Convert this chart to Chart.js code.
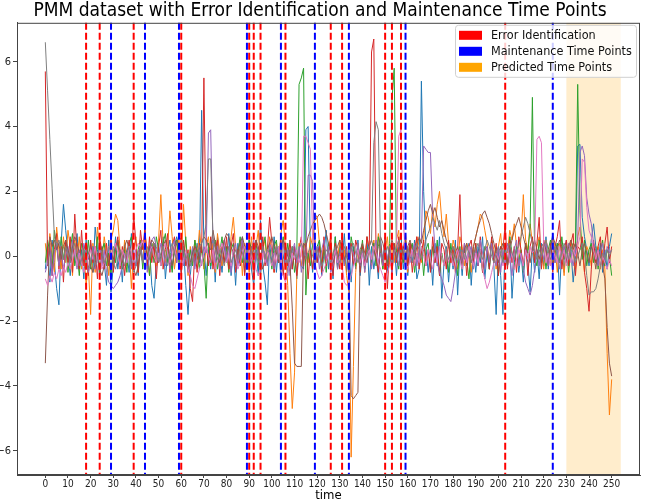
<!DOCTYPE html>
<html>
<head>
<meta charset="utf-8">
<script src="https://cdn.jsdelivr.net/npm/chart.js@4.4.0/dist/chart.umd.min.js"></script>
<style>
html, body { margin: 0; padding: 0; background: #fff; }
</style>
</head>
<body>
<canvas id="myChart" width="646" height="500"></canvas>
<script>
// series values, one per time step (0..250)
var blueVals = [
	-0.4, 0.3, -0.8, 0.5, -0.2, -1.0, -1.5, 0.4, 1.6, 0.8,
	0.1, -0.6, 0.3, -0.2, 0.7, -0.4, 0.2, -0.7, 0.5, -0.1,
	0.4, -0.5, 0.9, 0.2, -0.6, 0.3, -0.2, -0.9, 0.5, -1.1,
	-0.3, 0.6, -0.4, 0.2, -0.8, 0.4, 0.1, -0.5, 0.7, -0.3,
	0.2, -0.6, 0.5, -0.2, 0.8, -0.4, 0.3, -0.9, -1.3, -0.2,
	0.4, -0.3, 0.6, -0.7, 0.1, 0.5, -0.4, 0.3, 0.6, 0.2,
	-0.5, 0.3, -0.9, -1.8, -0.6, 0.2, -0.3, 0.4, -0.2, 4.5,
	0.3, -0.6, 0.2, -0.4, 0.5, -0.8, 0.6, 0.1, -0.5, 0.3,
	-0.2, 0.7, -0.6, 0.2, -0.9, 0.4, -0.3, 0.6, -0.5, 0.1,
	0.5, -0.4, -0.9, 0.2, -0.6, 1.1, -0.3, -0.8, -1.5, 0.4,
	-0.2, 0.6, -0.5, 0.3, -0.7, -0.1, 0.4, -0.6, 0.2, -0.4,
	0.3, -0.7, 0.1, -0.3, -0.4, 3.9, 4.0, 0.2, -0.5, 0.3,
	-0.2, 0.5, -0.6, 0.1, 0.8, -0.4, 0.3, -0.7, 0.6, -0.3,
	0.4, -0.2, 0.7, -0.5, 0.2, -0.8, 0.3, -0.4, 0.5, -0.6,
	0.2, -0.3, 0.6, -0.9, 0.3, -0.4, 0.1, -0.7, 0.5, -0.2,
	0.6, -0.5, 0.2, -0.3, 0.4, -0.6, 0.3, 0.7, -0.4, 0.1,
	-0.6, 0.4, -0.2, 0.5, -0.7, -0.4, 5.4, 2.0, 0.3, -0.5,
	0.2, -0.9, 0.4, -0.3, 0.6, -1.3, -0.2, 0.3, -0.8, 0.1,
	-0.4, 0.5, -1.2, 0.2, -0.6, 0.3, -0.3, 0.4, -0.9, 0.2,
	-0.5, 0.3, -0.2, 0.6, -0.7, 0.1, -0.4, 0.5, -0.3, -1.8,
	0.2, -0.6, -1.8, 0.4, -0.3, 0.6, -1.3, -0.2, 0.3, -0.5,
	0.1, -0.8, 0.4, -0.2, -1.1, 0.3, -0.5, 0.2, -0.7, 0.4,
	-0.3, 0.6, -0.4, 0.2, 0.7, -0.2, 0.4, -1.2, 0.3, -0.5,
	0.5, -0.3, 0.2, -0.8, -0.1, 3.4, 3.45, 1.2, 0.6, 0.2,
	-0.3, 0.5, 1.0, 0.3, -0.2, 0.4, -0.5, 0.2, -0.4, 0.3,
	0.7
];
var orangeVals = [
	0.4, -0.3, 0.7, 0.1, -0.5, 0.9, 0.2, -0.4, 0.6, -0.2,
	0.8, 0.3, -0.6, 0.5, -0.1, 0.6, -0.4, 0.2, -0.9, -0.3,
	-1.8, 0.4, -0.5, 0.9, 0.3, -0.2, 0.6, 0.1, -0.6, 0.5,
	0.8, 1.3, 1.1, 0.2, -0.4, 0.5, -0.3, 0.4, -1.0, 0.2,
	0.6, -0.5, 0.3, -0.2, 0.7, 0.1, -0.6, 0.4, 0.2, -0.3,
	0.5, 1.9, 0.4, -0.2, 0.3, 1.4, 0.6, -0.4, 0.2, 0.5,
	-0.3, 1.6, 0.4, -0.6, 0.3, -0.2, 0.5, -0.1, 0.8, 0.2,
	-0.4, 0.3, 0.6, -0.2, 0.4, -0.5, 0.7, 0.1, -0.3, 0.5,
	0.2, -0.4, 0.6, 1.2, 0.3, -0.2, 0.5, -0.6, 0.4, 0.1,
	-0.5, 0.6, -0.2, 0.3, 0.8, -0.4, 0.2, 0.5, -0.3, 0.6,
	0.1, -0.5, 0.4, -0.2, 0.7, 1.1, 0.3, -0.9, -3.0, -4.7,
	-3.6, -0.6, 0.4, -0.3, 0.2, 0.5, -0.2, 0.6, 0.3, 1.3,
	1.2, 0.4, -0.3, 0.5, -0.2, 0.3, 0.6, -0.4, 0.2, -0.1,
	0.5, -0.3, 0.2, -0.6, -1.1, -6.2, -3.4, -0.5, 0.3, -0.2,
	0.4, -0.5, 0.6, 0.2, -0.3, 0.5, -0.1, 0.7, 0.3, -0.4,
	0.2, 0.6, -0.3, 0.4, -0.2, 0.5, 0.8, -0.4, 0.3, 0.1,
	-0.5, 0.4, 0.2, -0.3, 0.6, 0.3, -0.2, 0.5, 1.4, 1.2,
	0.7, 1.5, 0.9, 1.6, 2.0, 1.1, 0.6, 1.3, 0.4, -0.2,
	0.5, 0.2, -0.4, 0.6, 0.3, -0.3, 0.4, 0.1, -0.5, 0.3,
	0.6, 0.9, 1.3, 1.2, 0.8, 0.4, -0.2, 0.5, 0.2, -0.4,
	0.3, 0.7, -0.2, 0.4, 0.1, 0.8, 0.5, 1.0, 0.3, -0.3,
	0.6, 1.9, 0.5, 0.2, 1.0, 0.4, -0.2, 0.3, 0.6, 0.1,
	-0.4, 0.5, 0.2, -0.3, 0.6, 0.3, -0.5, 0.4, 0.2, -0.6,
	0.3, -0.2, 0.5, 0.1, -0.4, 0.6, 0.9, 0.2, -0.5, 0.3,
	0.1, -0.3, 0.4, -0.2, 0.3, -0.4, 0.2, -0.4, -3.0, -4.9,
	-3.8
];
var greenVals = [
	-0.2, 0.5, 0.1, -0.4, 0.8, 0.3, -0.3, 0.6, -0.1, 0.4,
	-0.5, 0.2, 0.7, -0.3, 0.1, -0.6, 0.4, 0.2, -0.2, 0.5,
	-0.4, 0.3, -0.1, 0.6, -0.5, 0.2, 0.4, -0.3, 0.1, -0.6,
	0.3, -0.2, 0.5, 0.1, -0.4, 0.2, -0.5, 0.4, 0.6, -0.1,
	-0.3, 0.2, 0.5, -0.4, 0.3, 0.1, -0.6, 0.4, -0.2, 0.6,
	0.2, -0.3, 0.4, 0.7, -0.2, 0.1, -0.5, 0.3, 0.5, -0.2,
	0.4, -0.1, 0.6, -0.4, 0.2, -0.3, 0.5, 0.1, -0.4, 0.3,
	-0.2, -1.3, 0.4, -0.3, 0.2, 0.5, -0.4, 0.1, 0.6, -0.2,
	0.3, -0.5, 0.2, 0.4, -0.3, 0.1, 0.6, -0.2, 0.3, -0.4,
	0.5, 0.2, -0.3, 0.4, -0.1, -0.6, 0.3, 0.6, -0.2, 0.2,
	-0.4, 0.3, 0.5, -0.2, 0.1, 0.6, -0.3, 0.4, -0.1, 0.3,
	-0.5, 0.0, 5.3, 5.5, 5.8, -1.2, 0.1, -0.3, 0.4, -0.2,
	0.3, 0.5, -0.3, 0.2, -0.5, 0.4, 0.1, -0.2, 0.6, -0.4,
	0.2, 0.4, -0.3, 0.1, -0.5, 0.6, 0.2, -0.3, 0.4, -0.1,
	0.5, -0.4, 0.2, 0.3, -0.2, 0.4, -0.3, 0.6, 0.1, -0.4,
	0.3, -0.2, 0.4, 4.8, 5.8, 0.1, -0.4, 0.3, -0.2, 0.5,
	-0.3, 0.2, 0.4, -0.5, 0.1, -0.2, 0.3, -0.6, 0.2, 0.4,
	-0.4, 0.3, -0.2, 0.5, -0.6, 0.1, -0.3, 0.2, -0.5, 0.4,
	-0.2, 0.1, -0.6, 0.3, -0.4, 0.2, -0.1, -0.7, 0.3, -0.2,
	0.4, -0.3, 0.2, -0.5, 0.3, 0.1, -0.4, 0.5, -0.2, 0.2,
	-0.6, 0.3, -0.2, 0.4, -0.3, 0.6, 0.1, -0.4, 0.3, -0.2,
	0.2, -0.5, 0.4, 0.1, 0.9, 4.9, 0.0, -0.3, 0.5, -0.2,
	0.3, -0.4, 0.2, 0.5, -0.3, 0.1, 0.4, -0.2, 0.6, -0.1,
	0.3, -0.5, 0.2, 0.4, 0.3, 5.3, 1.4, -0.1, 0.5, -0.3,
	0.2, 0.4, -0.2, 0.3, -0.4, 0.1, 0.5, -0.3, 0.2, 0.0,
	-0.6
];
var redVals = [
	5.7, -0.3, 0.4, -0.6, 0.2, 0.7, -0.4, 0.3, -0.8, 0.5,
	-0.2, 0.6, -0.5, 1.3, 0.1, -0.4, 0.8, -0.3, 0.2, -0.6,
	0.5, -0.2, 0.3, -0.7, 0.6, 0.1, -0.4, 0.4, -0.3, 0.7,
	-0.5, 0.2, 0.6, -0.4, 0.3, -0.6, 0.1, 0.5, -0.3, 1.3,
	0.4, -0.5, 0.8, 0.2, 0.9, -0.3, 0.6, -0.2, 0.4, -0.7,
	0.3, 0.8, -0.4, 0.2, 0.7, -0.5, 0.3, 0.6, -0.2, 0.4,
	-0.6, 0.5, -0.3, 0.2, -1.0, -1.4, 0.3, -0.5, 0.4, 0.1,
	5.5, 0.4, -0.3, 0.6, -0.4, 0.2, 0.5, -0.6, 0.3, -0.2,
	0.6, -0.4, 0.3, 0.7, -0.5, 0.2, -0.3, 0.5, -0.6, 0.4,
	-0.2, 0.3, -0.7, 0.5, 0.1, -0.4, 0.6, -0.3, 0.2, 1.2,
	0.4, -0.5, 0.3, -0.2, 0.6, -0.6, 0.2, -0.3, 0.5, -0.4,
	0.3, -0.6, 0.2, 0.6, -0.3, 0.4, -0.7, 0.2, -0.4, 0.5,
	-0.2, 0.3, -0.5, 0.6, -0.3, 0.2, 0.5, -0.6, 0.4, 0.1,
	-0.4, 0.6, -0.2, 0.3, -0.6, 0.4, -0.3, 0.5, 0.2, -0.5,
	0.3, -0.2, 0.6, 0.2, 6.3, 6.7, 0.0, -0.5, 0.4, -0.3,
	0.5, -1.0, 0.3, -0.6, 0.4, -0.2, 0.6, -0.4, 0.2, 0.7,
	-0.3, 0.4, -0.5, 0.2, 0.6, -0.4, 0.1, 0.5, -0.3, 0.2,
	-0.5, 0.6, -0.2, 0.3, -0.6, 0.4, 0.2, -0.4, 0.5, -0.2,
	0.3, -0.5, 0.2, 1.9, -0.3, 0.4, -0.6, 0.3, 0.5, -0.2,
	0.4, -0.3, 0.6, -0.5, 0.2, 0.3, -0.4, 0.6, -0.2, 0.4,
	-0.6, 0.3, 0.2, 1.0, -0.4, 0.5, -0.2, 0.3, -0.5, 0.6,
	0.2, -0.3, 0.4, -0.6, 0.3, 0.6, -0.2, 0.4, 1.2, -0.4,
	0.5, 0.2, -0.3, 0.4, -0.5, 0.3, 0.6, 1.1, -0.4, 0.2,
	0.5, -0.3, 0.4, 0.7, -0.6, 0.3, 0.2, 0.6, -0.5, -1.0,
	-1.7, -0.4, 0.5, -0.2, 0.3, 0.6, -0.3, 0.4, 0.9, -0.2,
	0.3
];
var purpleVals = [
	-0.5, -0.2, 0.3, -0.6, 0.1, 0.4, -0.3, 0.2, -0.4, 0.0,
	0.3, -0.2, 0.5, 0.1, -0.4, 0.2, -0.3, 0.4, 0.1, -0.5,
	-0.2, 0.3, -0.4, 0.0, 0.4, -0.3, 0.2, -0.5, -0.8, -0.9,
	-1.0, -0.9, -0.8, -0.6, -0.3, 0.1, -0.2, 0.3, -0.4, 0.2,
	-0.3, 0.1, 0.4, -0.2, 0.3, -0.5, 0.0, 0.5, 0.6, 0.3,
	-0.1, 0.4, 0.2, -0.3, 0.1, -0.4, 0.3, 0.5, -0.2, 0.2,
	0.4, -0.3, 0.1, -0.5, -0.2, 0.3, -0.4, 0.1, 0.2, -0.3,
	0.3, 0.1, 3.8, 3.9, 0.4, -0.2, 0.3, -0.4, 0.1, 0.5,
	-0.2, 0.3, -0.5, 0.2, 0.4, -0.3, 0.1, 0.5, -0.2, 0.3,
	-0.4, 0.2, 0.5, -0.1, 0.3, -0.5, 0.2, 0.1, -0.3, 0.4,
	0.2, -0.4, 0.3, 0.1, -0.2, 0.5, -0.3, 0.2, -0.6, 0.1,
	0.4, -0.2, 0.3, -0.5, 0.1, 0.0, 2.5, 2.5, 2.3, -0.2,
	0.3, -0.4, 0.2, 0.5, -0.1, 0.3, -0.5, -0.3, 0.2, -0.4,
	0.1, 0.4, -0.3, 0.2, -0.6, 0.3, 0.1, -0.2, 0.4, -0.3,
	0.2, -0.5, 0.1, 0.3, -0.4, 0.2, 0.5, -0.2, 0.1, -0.3,
	0.4, -0.1, 0.3, -0.5, 0.2, 0.1, -0.3, 0.4, 0.2, -0.4,
	0.3, -0.2, 0.1, 0.4, -0.3, 0.2, 0.5, 3.4, 3.3, 3.2,
	3.2, 1.2, 0.3, -0.2, -0.5, -0.7, -0.9, -1.2, -1.3, -1.4,
	-1.0, -0.5, -0.1, 0.2, -0.3, 0.4, -0.2, 0.1, 0.3, -0.4,
	0.2, -0.3, 0.5, 0.1, -0.4, 0.3, -0.2, 0.4, 0.0, -0.3,
	0.3, -0.5, 0.2, -0.2, 0.4, -0.1, -0.6, 0.2, 0.5, -0.3,
	0.1, -0.4, -0.8, -1.0, -1.2, -0.9, -0.4, 0.2, -0.3, 0.3,
	-0.1, 0.4, -0.3, 0.2, 0.5, -0.2, 0.3, -0.4, 0.1, 0.3,
	-0.2, 0.4, 0.1, -0.3, 0.2, 0.5, 3.2, 3.4, 3.1, 1.8,
	1.3, 1.0, 0.4, 0.2, -0.3, 0.1, 0.4, -0.2, 0.3, 0.1,
	0.2
];
var brownVals = [
	-3.3, -1.2, 0.6, 0.3, 0.5, 0.2, 0.4, -0.1, 0.3, 0.5,
	0.2, -0.1, 0.3, 0.6, 0.4, 0.1, -0.2, 0.2, 0.4, 0.1,
	-0.3, -0.5, -0.2, 0.1, -0.4, -0.6, -0.3, 0.1, -0.2, -0.4,
	-0.1, 0.2, 0.4, 0.1, -0.2, 0.3, 0.5, 0.2, -0.1, -0.4,
	-0.6, -0.3, 0.1, 0.4, 0.2, -0.1, 0.3, 0.5, 0.4, 0.1,
	-0.2, 0.0, 0.3, 0.5, 0.2, -0.1, -0.3, 0.1, 0.4, 0.6,
	0.5, 0.2, -0.1, -0.4, -0.2, 0.1, 0.3, 0.2, -0.1, 0.4,
	0.6, 0.5, 0.3, 0.2, 0.8, 0.4, 0.1, -0.2, 0.2, 0.5,
	0.7, 0.6, 0.3, 0.1, -0.2, 0.2, 0.4, 0.6, 0.3, 0.0,
	-0.3, -0.1, 0.2, 0.5, 0.3, -0.2, -0.4, -0.1, 0.2, 0.4,
	0.6, 0.3, 0.1, -0.2, 0.2, 0.5, 0.3, 0.0, -0.2, -1.6,
	-3.3, -3.4, -3.4, -3.4, 0.4, 0.3, 0.6, 0.8, 1.0, 1.1,
	1.2, 1.3, 1.2, 1.0, 0.7, 0.4, 0.1, -0.2, 0.1, 0.3,
	0.5, 0.2, -0.1, 0.1, -0.4, -4.3, -4.4, -4.3, -4.2, 0.2,
	0.4, 0.1, -0.2, 0.3, 0.5, 0.2, -0.1, 0.3, 0.6, 0.4,
	0.1, -0.3, 0.2, 0.5, 0.3, -0.1, 0.2, 0.4, 0.1, -0.2,
	0.3, 0.5, 0.2, -0.1, 0.3, 0.6, 0.4, 0.8, 1.1, 1.4,
	1.6, 1.3, 1.5, 1.2, 0.9, 1.1, 0.8, 0.5, 0.3, 0.1,
	-0.2, 0.1, 0.3, 0.0, -0.3, 0.2, 0.4, 0.1, -0.2, 0.3,
	0.6, 0.9, 1.1, 1.3, 1.4, 1.2, 1.0, 0.7, 0.4, 0.1,
	-0.2, 0.2, 0.4, 0.1, -0.3, 0.2, 0.5, 0.8, 1.0, 1.2,
	0.9, 0.6, 0.3, 0.1, -0.2, 0.3, 0.5, 0.2, -0.1, 0.3,
	0.4, 0.2, -0.1, 0.3, 0.6, 0.4, 0.2, 0.5, 0.3, 0.1,
	-0.2, 0.3, 0.5, 0.2, 0.4, 0.1, -0.3, 0.2, 0.4, 0.1,
	-0.2, 0.3, 0.1, -0.4, 0.2, 0.0, -0.3, -0.7, -2.2, -3.3,
	-3.7
];
var pinkVals = [
	-0.7, -0.9, -0.6, -0.8, -0.5, -0.7, -0.4, -0.6, -0.3, -0.5,
	-0.2, -0.4, -0.1, 0.2, -0.3, 0.1, -0.2, -0.5, -0.3, 0.0,
	0.2, -0.1, 0.3, -0.2, 0.1, -0.4, -0.2, 0.1, 0.3, -0.1,
	0.2, 0.4, 0.1, -0.3, 0.2, 0.0, -0.2, 0.3, 0.1, -0.3,
	0.2, 0.4, 0.3, 0.5, 0.2, -0.1, 0.1, 0.3, 0.0, -0.2,
	0.1, -0.3, 0.2, 0.4, 0.1, -0.2, 0.0, 0.3, -0.1, 0.2,
	-0.3, -0.1, 0.2, -0.4, -0.6, -0.9, -1.0, -0.7, -0.4, -0.2,
	0.1, 0.3, 0.0, -0.2, 0.2, -0.4, -0.1, 0.2, 0.4, 0.1,
	-0.2, 0.1, -0.3, 0.2, 0.0, -0.4, -0.2, 0.1, 0.3, -0.1,
	0.2, -0.2, 0.1, -0.4, -0.6, -0.3, 0.1, -0.2, 0.2, 0.0,
	-0.3, 0.1, -0.2, 0.3, -0.4, -0.6, -0.8, -0.5, -0.2, 0.1,
	-0.1, 0.2, -0.2, 0.0, 3.7, 3.7, 3.5, 3.3, 0.5, -0.2,
	-0.5, -0.7, -0.6, -0.4, -0.2, 0.1, -0.3, -0.1, 0.2, -0.2,
	0.0, -0.3, -0.8, -0.9, -0.8, -0.6, -0.3, -0.1, 0.2, -0.2,
	0.1, -0.3, 0.0, 0.2, -0.1, 0.3, 0.1, -0.2, -0.4, -0.6,
	-0.8, -0.5, -0.3, -0.1, 0.1, 0.3, 3.7, 3.9, 1.2, -0.2,
	-0.4, -0.1, 0.2, -0.3, 0.1, -0.2, 0.3, 0.0, -0.3, 0.2,
	-0.1, -0.4, 0.1, -0.2, 0.3, 0.0, -0.3, 0.2, -0.2, 0.1,
	-0.3, 0.0, 0.2, -0.1, -0.4, 0.1, -0.2, 0.3, 0.0, -0.3,
	0.1, -0.2, 0.2, -0.4, -0.7, -1.0, -0.8, -0.5, -0.2, 0.1,
	-0.1, 0.2, -0.3, 0.0, 0.3, -0.2, 0.1, -0.4, -0.1, 0.2,
	0.0, -0.3, 0.2, -0.1, 0.3, 0.1, 0.2, 3.6, 3.7, 3.5,
	0.4, -0.2, 0.1, -0.3, 0.2, 0.0, -0.2, 0.3, -0.1, 0.2,
	-0.3, 0.1, -0.2, 0.2, 0.0, 0.3, 0.6, 3.0, 2.9, 1.5,
	0.8, 0.6, 0.2, -0.1, 0.2, -0.3, 0.0, -0.2, -0.4, -0.1,
	-0.3
];
var greyVals = [
	6.6, 5.1, 3.6, 2.1, 0.6, 0.3, 0.5, 0.2, -0.1, 0.3,
	0.1, -0.2, 0.2, 0.4, 0.1, -0.3, -0.1, 0.2, -0.2, -0.4,
	-0.1, 0.2, -0.3, -0.1, 0.3, 0.1, -0.2, 0.0, 0.3, 0.1,
	-0.2, -0.4, -0.1, 0.2, 0.0, -0.3, 0.1, 0.3, -0.1, -0.5,
	-0.3, 0.0, 0.2, -0.2, 0.1, 0.3, -0.1, 0.2, 0.4, 0.1,
	-0.2, 0.1, 0.3, 0.0, -0.3, 0.2, 0.4, 0.1, -0.1, 0.3,
	0.5, 0.2, -0.1, 0.1, -0.3, -0.1, 0.2, 0.0, 0.3, 0.4,
	0.6, 1.0, 3.0, 3.0, 0.6, 0.2, -0.1, 0.2, 0.0, -0.3,
	0.1, 0.3, -0.2, 0.0, 0.2, -0.1, 0.3, 0.1, -0.2, 0.2,
	-0.1, 0.2, 0.4, 0.1, -0.2, 0.0, 0.3, -0.1, 0.2, 0.1,
	-0.2, 0.1, 0.3, -0.1, 0.2, 0.4, 0.1, -0.2, 0.0, 0.3,
	0.1, -0.1, 0.2, 0.4, 0.2, -0.1, 0.1, 0.3, 0.0, -0.2,
	0.2, 0.0, -0.3, -0.1, 0.2, 0.1, -0.2, 0.1, 0.3, 0.0,
	-0.2, 0.1, 0.3, 0.0, -0.1, 0.2, 0.4, 0.1, -0.2, 0.0,
	0.2, -0.1, 0.1, 0.3, 0.5, 3.5, 4.15, 3.9, 0.2, -0.1,
	0.1, 0.3, 0.0, -0.2, 0.1, 0.3, 0.5, 0.2, -0.1, 0.1,
	0.3, 0.0, -0.2, 0.1, 0.4, 0.2, -0.1, 0.2, 0.5, 0.7,
	0.9, 1.2, 1.0, 0.8, 1.1, 0.7, 0.4, 0.2, -0.1, 0.1,
	0.3, 0.0, -0.2, 0.1, 0.2, -0.1, 0.3, 0.1, -0.2, 0.0,
	0.2, 0.4, 0.1, -0.1, 0.2, 0.5, 0.3, 0.0, -0.2, 0.1,
	0.3, 0.1, -0.2, 0.0, 0.2, 0.4, 0.1, -0.1, 0.2, 0.3,
	0.6, 0.9, 1.2, 1.0, 0.7, 0.4, 0.1, -0.1, 0.2, 0.0,
	0.3, 0.5, 0.2, -0.1, 0.1, 0.3, 0.0, -0.2, 0.1, 0.4,
	0.2, -0.1, 0.3, 0.1, -0.2, 0.0, 0.2, 0.4, 0.1, -0.6,
	-1.2, -1.1, -1.1, -1.0, -0.7, -0.3, 0.1, -0.1, 0.2, 0.0,
	0.2
];

var seriesVals = [blueVals, orangeVals, greenVals, redVals, purpleVals, brownVals, pinkVals, greyVals];
var seriesColors = ["#1f77b4", "#ff7f0e", "#2ca02c", "#d62728", "#9467bd", "#8c564b", "#e377c2", "#7f7f7f"];

// marked time points
var errorPoints = [18, 24, 39, 60, 90, 92, 95, 106, 126, 131, 150, 153, 157, 203];
var maintenancePoints = [29, 44, 59, 89, 104, 119, 134, 159, 224];
var predictedSpan = [230, 254];

var xTicks = [0, 10, 20, 30, 40, 50, 60, 70, 80, 90, 100, 110, 120, 130, 140, 150, 160, 170, 180, 190, 200, 210, 220, 230, 240, 250];
var yTicks = [-6, -4, -2, 0, 2, 4, 6];

var legendLabels = ["Error Identification", "Maintenance Time Points", "Predicted Time Points"];
var legendColors = ["#ff0000", "#0000ff", "#ffa500"];

var FONT = "'Liberation Sans Narrow', 'DejaVu Sans Condensed', 'DejaVu Sans', sans-serif";

var dts = seriesVals.map(function (vals, i) {
	return {
		data: vals.map(function (v, t) { return { x: t, y: v }; }),
		borderColor: seriesColors[i],
		borderWidth: 1,
		pointRadius: 0,
		fill: false,
		tension: 0,
		order: seriesVals.length - i
	};
});

function vline(ctx, area, px, color) {
	ctx.strokeStyle = color;
	ctx.beginPath();
	ctx.moveTo(px, area.top);
	ctx.lineTo(px, area.bottom);
	ctx.stroke();
}

var markersPlugin = {
	id: "markers",
	beforeDatasetsDraw: function (chart) {
		var ctx = chart.ctx, area = chart.chartArea, xs = chart.scales.x;
		var a = xs.getPixelForValue(predictedSpan[0]);
		var b = xs.getPixelForValue(predictedSpan[1]);
		ctx.save();
		ctx.fillStyle = "rgba(255, 165, 0, 0.2)";
		ctx.fillRect(a, area.top, b - a, area.bottom - area.top);
		ctx.restore();
	},
	afterDatasetsDraw: function (chart) {
		var ctx = chart.ctx, area = chart.chartArea, xs = chart.scales.x;
		ctx.save();
		ctx.lineWidth = 2;
		ctx.setLineDash([7, 3]);
		errorPoints.forEach(function (t) { vline(ctx, area, xs.getPixelForValue(t), "#ff0000"); });
		maintenancePoints.forEach(function (t) { vline(ctx, area, xs.getPixelForValue(t), "#0000ff"); });
		ctx.restore();
	},
	afterDraw: function (chart) {
		var ctx = chart.ctx, area = chart.chartArea;
		ctx.save();
		// frame
		ctx.strokeStyle = "#444";
		ctx.lineWidth = 1;
		ctx.strokeRect(area.left + 0.5, area.top + 0.5, area.right - area.left - 1, area.bottom - area.top - 1);
		// legend box
		var w = 181, h = 52;
		var x0 = area.right - w - 4, y0 = area.top + 2;
		ctx.fillStyle = "rgba(255, 255, 255, 0.8)";
		ctx.strokeStyle = "#d0d0d0";
		ctx.beginPath();
		ctx.roundRect(x0 + 0.5, y0 + 0.5, w, h, 3);
		ctx.fill();
		ctx.stroke();
		ctx.font = "12.5px " + FONT;
		ctx.textBaseline = "middle";
		legendLabels.forEach(function (lab, i) {
			var cy = y0 + 10 + i * 16;
			ctx.fillStyle = legendColors[i];
			ctx.fillRect(x0 + 4, cy - 4, 23, 9);
			ctx.fillStyle = "#111";
			ctx.fillText(lab, x0 + 36, cy + 1);
		});
		ctx.restore();
	}
};

var ctx = document.getElementById("myChart").getContext("2d");
var chart = new Chart(ctx, {
	type: "line",
	data: { datasets: dts },
	plugins: [markersPlugin],
	options: {
		responsive: false,
		animation: false,
		devicePixelRatio: 1,
		layout: { padding: { left: 0, right: 6, top: 0, bottom: 0 } },
		plugins: {
			legend: { display: false },
			tooltip: { enabled: false },
			title: {
				display: true,
				text: "PMM dataset with Error Identification and Maintenance Time Points",
				color: "#000",
				font: { family: FONT, size: 19, weight: "normal", lineHeight: 1.2 },
				padding: { top: 0, bottom: 0 }
			}
		},
		scales: {
			x: {
				type: "linear",
				min: -12.5,
				max: 262.5,
				afterBuildTicks: function (scale) {
					scale.ticks = xTicks.map(function (v) { return { value: v }; });
				},
				afterFit: function (scale) { scale.height = 25; },
				grid: { drawOnChartArea: false, tickLength: 3, color: "#444" },
				border: { color: "#444" },
				ticks: {
					autoSkip: false,
					maxRotation: 0,
					padding: 0,
					color: "#222",
					font: { family: FONT, size: 10 }
				},
				title: {
					display: true,
					text: "time",
					color: "#000",
					font: { family: FONT, size: 13, lineHeight: 1.0 },
					padding: { top: 0, bottom: -2 }
				}
			},
			y: {
				min: -6.75,
				max: 7.2,
				afterBuildTicks: function (scale) {
					scale.ticks = yTicks.map(function (v) { return { value: v }; });
				},
				afterFit: function (scale) { scale.width = 17; },
				grid: { drawOnChartArea: false, tickLength: 4, color: "#444" },
				border: { color: "#444" },
				ticks: {
					padding: 2,
					color: "#222",
					font: { family: FONT, size: 11 },
					callback: function (v) { return v < 0 ? "\u2212" + Math.abs(v) : String(v); }
				}
			}
		}
	}
});
</script>
</body>
</html>
